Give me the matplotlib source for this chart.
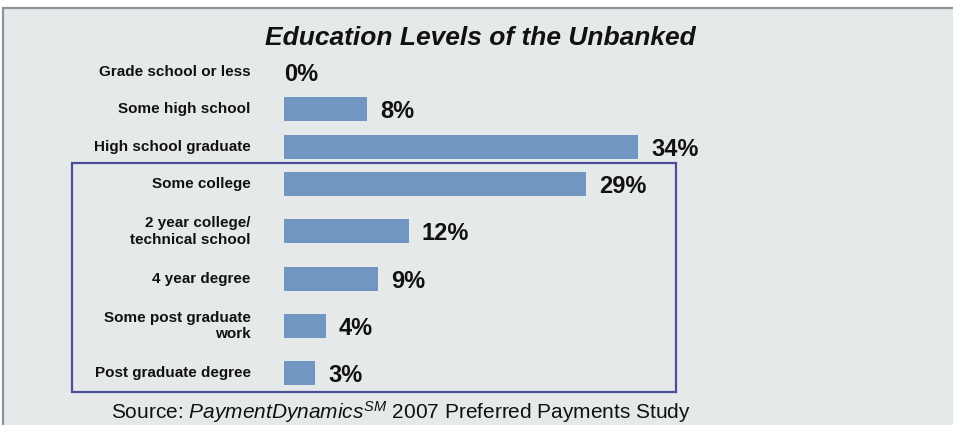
import matplotlib.pyplot as plt
from matplotlib.patches import Rectangle
import numpy as np

plt.rcParams['mathtext.fontset'] = 'custom'
plt.rcParams['mathtext.rm'] = 'Liberation Sans'
plt.rcParams['mathtext.it'] = 'Liberation Sans:italic'

categories = ['Grade school or less', 'Some high school', 'High school graduate',
              'Some college', '2 year college/\ntechnical school', '4 year degree',
              'Some post graduate\nwork', 'Post graduate degree']
values = [0, 8, 34, 29, 12, 9, 4, 3]
value_labels = ['0%', '8%', '34%', '29%', '12%', '9%', '4%', '3%']
# rows inside the box are spaced a bit wider
gaps = [0, 1, 1, 1, 1.27, 1.27, 1.27, 1.27]

W, H = 954, 425
bar_color = '#7096c1'
bg = '#e6e9ea'

fig = plt.figure(figsize=(W / 100, H / 100), dpi=100)
fig.patch.set_facecolor('white')

# gray panel with border
fig.patches.append(Rectangle((3 / W, -0.01), 1.0, (H - 8) / H + 0.01, transform=fig.transFigure,
                             facecolor=bg, edgecolor='#8c9597', linewidth=1.6, zorder=-10))

px_per_unit = 37.3
px_per_pct = 10.41
pos = np.cumsum(gaps)

ax = fig.add_axes([284 / W, 0, (W - 284) / W, 1])
ax.set_zorder(1)
ax.set_xlim(0, (W - 284) / px_per_pct)
ax.set_ylim((H - 72) / px_per_unit, -72 / px_per_unit)
ax.axis('off')
ax.patch.set_alpha(0)

ax.barh(pos, values, height=24 / px_per_unit, color=bar_color, zorder=2)

for p, v, lab, cat in zip(pos, values, value_labels, categories):
    x = v + 1.25 if v > 0 else 0
    ax.text(x, p, lab, ha='left', va='center_baseline', fontsize=17, fontweight='bold',
            color='#111111', family='Liberation Sans')
    ax.text(-3.2, p, cat, ha='right', va='center', fontsize=11, fontweight='bold',
            color='#111111', family='Liberation Sans', linespacing=1.25, clip_on=False)

# box around post-high-school rows
fig.patches.append(Rectangle((72 / W, (H - 392) / H), 604 / W, 229 / H, transform=fig.transFigure,
                             facecolor='none', edgecolor='#4a4f98', linewidth=1.6, zorder=3))

fig.text(480 / W, 1 - 38 / H, 'Education Levels of the Unbanked', ha='center', va='center',
         fontsize=19, fontweight='bold', style='italic', family='Liberation Sans', color='#111111')

fig.text(401 / W, 1 - 412 / H,
         r'Source: $\mathit{PaymentDynamics}^{\mathit{SM}}$ 2007 Preferred Payments Study',
         ha='center', va='center', fontsize=15, family='Liberation Sans', color='#111111')

fig.savefig('out.png', dpi=100, facecolor=fig.get_facecolor())
